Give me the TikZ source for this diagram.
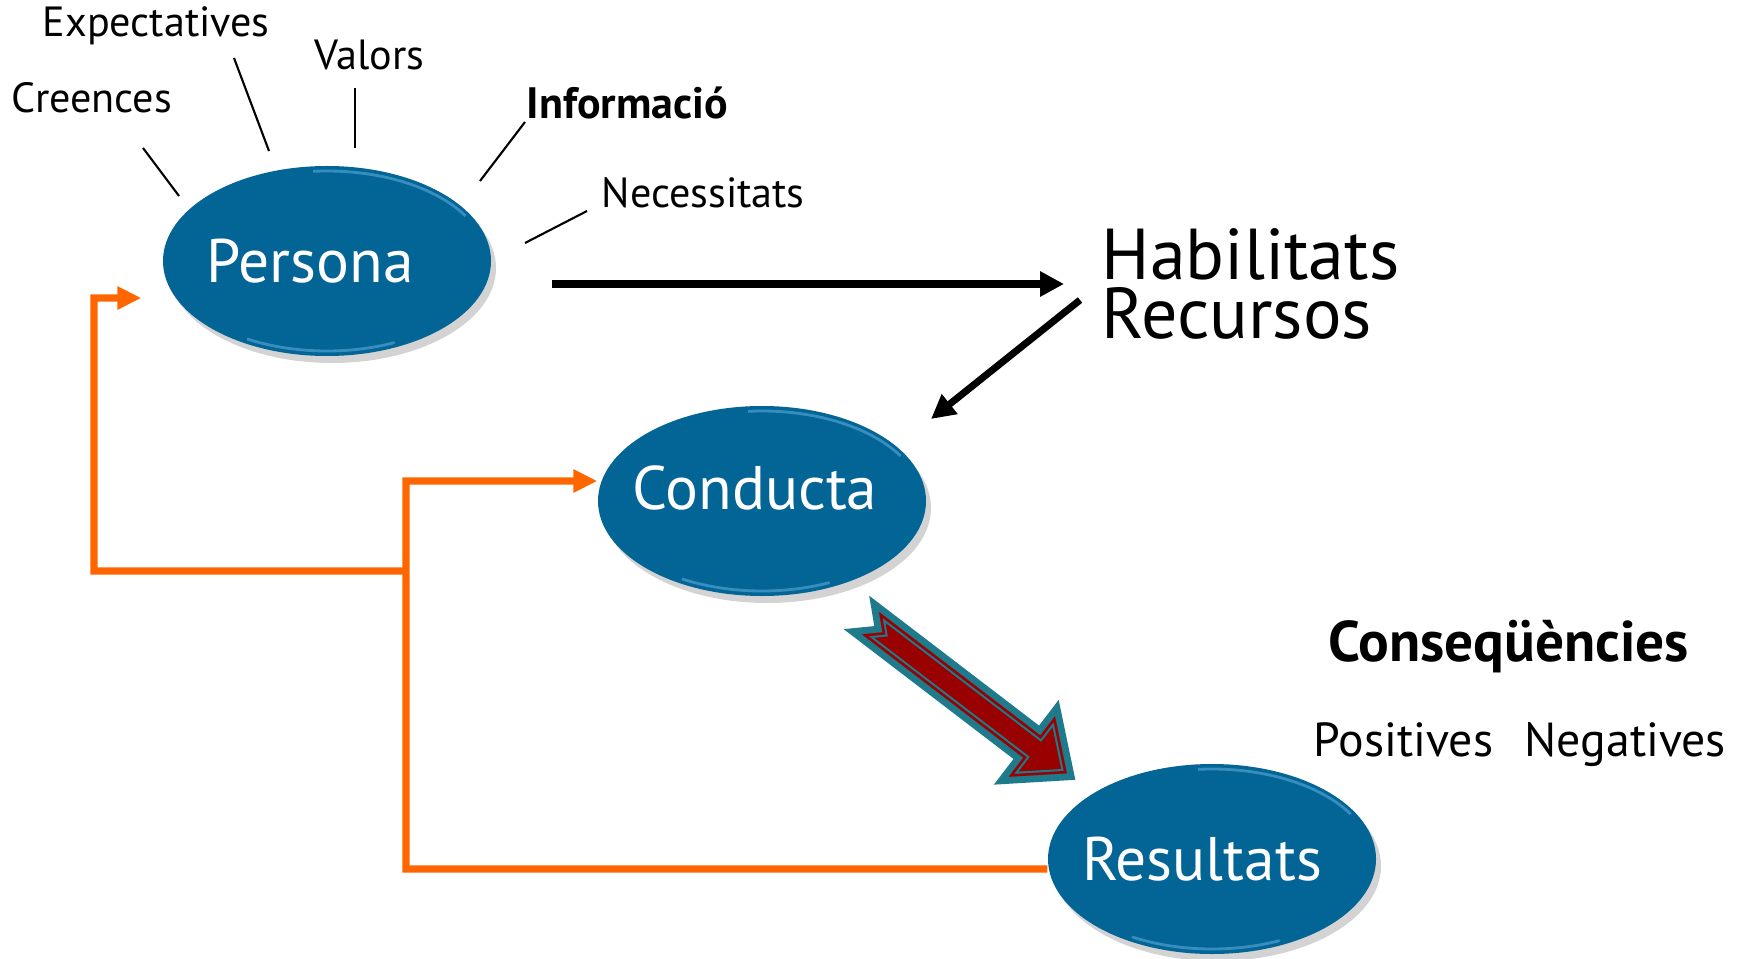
\documentclass[tikz,border=0pt]{standalone}
\usepackage{fontspec}
\setmainfont{PT Sans}
\usetikzlibrary{arrows.meta,shadows,shapes.geometric}
\definecolor{ballblue}{RGB}{3,100,150}
\definecolor{rimblue}{RGB}{120,195,240}
\definecolor{feedorange}{RGB}{255,102,0}
\definecolor{bandteal}{RGB}{31,122,140}
\definecolor{shaftred}{RGB}{153,0,0}
\begin{document}
\begin{tikzpicture}[
    ball/.style={ellipse, fill=ballblue, inner sep=0pt,
      minimum width=3.28cm, minimum height=1.9cm,
      drop shadow={shadow xshift=.05cm, shadow yshift=-.07cm, opacity=.35},
      path picture={
        \draw[rimblue, line width=.8pt, opacity=.45] (path picture bounding box.center)
          ++(30:1.6 and .9) arc[start angle=30, end angle=95, x radius=1.6, y radius=.9];
        \draw[rimblue, line width=.8pt, opacity=.45] (path picture bounding box.center)
          ++(240:1.6 and .9) arc[start angle=240, end angle=295, x radius=1.6, y radius=.9];
      }},
    balltext/.style={text=white, inner sep=0pt, font=\fontsize{17.5}{20}\selectfont},
    lbl/.style={anchor=base west, inner sep=0pt, font=\fontsize{12}{14}\selectfont},
    tick/.style={line width=.6pt},
    fwd/.style={line width=2pt, -{Triangle[length=.24cm,width=.24cm]}},
    feedback/.style={feedorange, line width=2pt, -{Triangle[length=.24cm,width=.22cm]}},
    bigshape/.style={insert path={(.07,.14) -- (2.1,.14) -- (2.1,.38) -- (2.54,0)
      -- (2.1,-.38) -- (2.1,-.14) -- (.07,-.14) -- (.22,0) -- cycle}}
  ]
  \useasboundingbox (0,0) rectangle (17.42,9.58);

  \node[ball, label={[balltext, xshift=-1.7mm]center:Persona}] (persona) at (3.27,6.97) {};
  \node[ball, label={[balltext, xshift=-.7mm, yshift=1.3mm]center:Conducta}] (conducta) at (7.62,4.57) {};
  \node[ball, label={[balltext, xshift=-1mm]center:Resultats}] (resultats) at (12.12,0.99) {};

  \node[lbl] (creences) at (0.11,8.45) {Creences};
  \node[lbl] (expectatives) at (0.42,9.21) {Expectatives};
  \node[lbl] (valors) at (3.14,8.88) {Valors};
  \node[lbl, font=\fontsize{12.5}{14}\selectfont\bfseries] (informacio) at (5.26,8.39) {Informació};
  \node[lbl] (necessitats) at (6.01,7.50) {Necessitats};

  \node[lbl, font=\fontsize{20.5}{24}\selectfont] (habilitats) at (11.01,6.78) {Habilitats};
  \node[lbl, font=\fontsize{20.5}{24}\selectfont] (recursos) at (11.01,6.20) {Recursos};
  \node[lbl, font=\fontsize{16.3}{18}\selectfont\bfseries] (conseq) at (13.28,2.97) {Conseqüències};
  \node[lbl, font=\fontsize{13.6}{16}\selectfont] (positives) at (13.13,2.02) {Positives};
  \node[lbl, font=\fontsize{13.6}{16}\selectfont] (negatives) at (15.24,2.02) {Negatives};

  \coordinate (t1a) at (1.43,8.10); \coordinate (t1b) at (1.79,7.62);
  \coordinate (t2a) at (2.34,9.00); \coordinate (t2b) at (2.69,8.07);
  \coordinate (t3a) at (3.55,8.70); \coordinate (t3b) at (3.55,8.10);
  \coordinate (t4a) at (5.25,8.36); \coordinate (t4b) at (4.80,7.77);
  \coordinate (t5a) at (5.87,7.47); \coordinate (t5b) at (5.25,7.15);
  \draw[tick] (t1a) -- (t1b);
  \draw[tick] (t2a) -- (t2b);
  \draw[tick] (t3a) -- (t3b);
  \draw[tick] (t4a) -- (t4b);
  \draw[tick] (t5a) -- (t5b);

  \coordinate (p-out) at (5.52,6.74);
  \coordinate (s-in) at (10.64,6.74);
  \coordinate (s-out) at (10.80,6.58);
  \coordinate (c-in) at (9.31,5.39);
  \draw[fwd] (p-out) -- (s-in);
  \draw[fwd] (s-out) -- (c-in);

  \coordinate (bend) at (4.06,4.77);
  \coordinate (fork) at (4.06,3.87);
  \coordinate (back) at (0.94,6.60);
  \draw[feedback] ([yshift=-1mm]resultats.west) -| (bend) -- ([yshift=2mm]conducta.west);
  \draw[feedback] (fork) -| (back) -- ([xshift=-2.1mm,yshift=-3.7mm]persona.west);

  \begin{scope}[shift={(8.65,3.39)}, rotate=-37.4]
    \draw[bandteal, line width=4pt, line join=miter, bigshape];
    \fill[shaftred, bigshape];
    \begin{scope}
      \clip[bigshape];
      \draw[bandteal, line width=2.6pt, bigshape];
      \draw[shaftred, line width=1.4pt, bigshape];
    \end{scope}
  \end{scope}
\end{tikzpicture}
\end{document}
